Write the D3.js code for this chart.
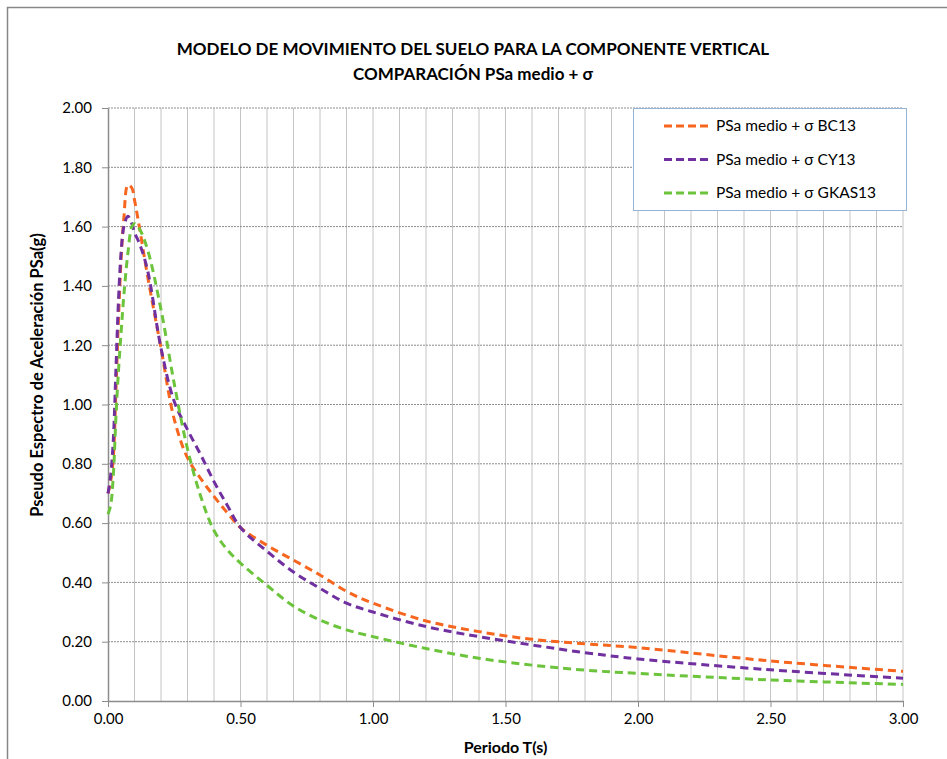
<!DOCTYPE html>
<html>
<head>
<meta charset="utf-8">
<script src="https://cdn.jsdelivr.net/npm/d3@7"></script>
<style>
  body { margin: 0; background: #fff; }
  text { font-family: Lato, "Open Sans", sans-serif; fill: #000; }
</style>
</head>
<body>
<svg id="chart" width="947" height="759"></svg>
<script>
// Periodo T(s) -- shared by all three models
var periods = [0, 0.01, 0.02, 0.03, 0.04, 0.05, 0.06, 0.075, 0.09, 0.1, 0.12, 0.15,
  0.2, 0.25, 0.3, 0.35, 0.4, 0.45, 0.5, 0.6, 0.7, 0.8, 0.9, 1.0, 1.2, 1.4, 1.6,
  1.8, 2.0, 2.5, 3.0];

// PSa medio + sigma, in g
var bc13 = [0.70, 0.74, 0.82, 1.05, 1.30, 1.50, 1.63, 1.74, 1.73, 1.69, 1.59, 1.43,
  1.19, 0.95, 0.82, 0.75, 0.69, 0.635, 0.585, 0.525, 0.475, 0.425, 0.37, 0.33, 0.27,
  0.234, 0.208, 0.193, 0.18, 0.135, 0.10];
var cy13 = [0.70, 0.76, 0.88, 1.12, 1.36, 1.52, 1.60, 1.635, 1.61, 1.58, 1.54, 1.45,
  1.19, 1.01, 0.915, 0.83, 0.74, 0.66, 0.585, 0.505, 0.435, 0.38, 0.33, 0.30, 0.251,
  0.217, 0.189, 0.163, 0.142, 0.105, 0.077];
var gkas13 = [0.63, 0.66, 0.76, 0.96, 1.12, 1.25, 1.37, 1.51, 1.60, 1.61, 1.59, 1.52,
  1.32, 1.07, 0.85, 0.69, 0.575, 0.51, 0.465, 0.39, 0.32, 0.273, 0.24, 0.217, 0.177,
  0.144, 0.121, 0.104, 0.093, 0.071, 0.056];

var seriesNames = ["PSa medio + σ BC13", "PSa medio + σ CY13", "PSa medio + σ GKAS13"];
var seriesColors = ["#f6661f", "#7030a0", "#6cc43c"];
var xTicks = [0, 0.5, 1.0, 1.5, 2.0, 2.5, 3.0];
var yTicks = [0, 0.2, 0.4, 0.6, 0.8, 1.0, 1.2, 1.4, 1.6, 1.8, 2.0];

var svg = d3.select("#chart");
var plotL = 108, plotR = 903, plotT = 108, plotB = 701;

var x = d3.scaleLinear().domain([0, 3]).range([plotL, plotR]);
var y = d3.scaleLinear().domain([0, 2]).range([plotB, plotT]);

// outer chart frame
svg.append("path")
  .attr("d", "M7.5,759 V7.5 H947")
  .attr("fill", "none").attr("stroke", "#878787").attr("stroke-width", 1.5);

// titles
var title = svg.append("text")
  .attr("text-anchor", "middle")
  .style("font-weight", "bold").style("font-size", "17px");
title.append("tspan").attr("x", 473).attr("y", 55)
  .text("MODELO DE MOVIMIENTO DEL SUELO PARA LA COMPONENTE VERTICAL");
title.append("tspan").attr("x", 473).attr("y", 80)
  .text("COMPARACIÓN PSa medio + σ");

// vertical gridlines every 0.1 s
svg.append("g").selectAll("line")
  .data(d3.range(1, 31).map(function (i) { return i / 10; }))
  .enter().append("line")
  .attr("x1", function (d) { return x(d); }).attr("x2", function (d) { return x(d); })
  .attr("y1", plotT).attr("y2", plotB)
  .attr("stroke", "#c4c4c4").attr("stroke-width", 1);

// horizontal dotted gridlines
svg.append("g").selectAll("line")
  .data(yTicks.slice(1))
  .enter().append("line")
  .attr("x1", plotL).attr("x2", plotR)
  .attr("y1", function (d) { return y(d); }).attr("y2", function (d) { return y(d); })
  .attr("stroke", "#8c8c8c").attr("stroke-width", 1)
  .attr("stroke-dasharray", "2,1");

// axes
var xAxis = svg.append("g")
  .attr("transform", "translate(0," + plotB + ")")
  .call(d3.axisBottom(x).tickValues(xTicks).tickFormat(d3.format(".2f"))
    .tickSizeInner(6).tickSizeOuter(0).tickPadding(6));
var yAxis = svg.append("g")
  .attr("transform", "translate(" + plotL + ",0)")
  .call(d3.axisLeft(y).tickValues(yTicks).tickFormat(d3.format(".2f"))
    .tickSizeInner(6).tickSizeOuter(0).tickPadding(10));

[xAxis, yAxis].forEach(function (ax) {
  ax.select(".domain").attr("stroke", "#8c8c8c").attr("stroke-width", 1.5);
  ax.selectAll(".tick line").attr("stroke", "#8c8c8c");
  ax.selectAll(".tick text").style("font-size", "15px")
    .style("font-family", "Lato, sans-serif").attr("fill", "#000");
});

svg.append("text")
  .attr("x", (plotL + plotR) / 2).attr("y", 753).attr("text-anchor", "middle")
  .style("font-weight", "bold").style("font-size", "16px")
  .text("Periodo T(s)");
svg.append("text")
  .attr("transform", "translate(43,375) rotate(-90)")
  .attr("text-anchor", "middle")
  .style("font-weight", "bold").style("font-size", "16.5px")
  .text("Pseudo Espectro de Aceleración PSa(g)");

// curves
var line = d3.line()
  .x(function (d) { return x(d[0]); })
  .y(function (d) { return y(d[1]); })
  .curve(d3.curveCatmullRom.alpha(0.5));

[bc13, cy13, gkas13].forEach(function (vals, i) {
  svg.append("path")
    .datum(periods.map(function (p, j) { return [p, vals[j]]; }))
    .attr("d", line)
    .attr("fill", "none")
    .attr("stroke", seriesColors[i])
    .attr("stroke-width", 3)
    .attr("stroke-dasharray", "8,5");
});

// legend
var legend = svg.append("g");
legend.append("rect")
  .attr("x", 633.5).attr("y", 108.5).attr("width", 273).attr("height", 102)
  .attr("fill", "#fff").attr("stroke", "#95b3d7").attr("stroke-width", 1);
seriesNames.forEach(function (name, i) {
  var ly = 126 + i * 33.5;
  legend.append("line")
    .attr("x1", 664).attr("x2", 711).attr("y1", ly).attr("y2", ly)
    .attr("stroke", seriesColors[i]).attr("stroke-width", 3)
    .attr("stroke-dasharray", "8,4");
  legend.append("text")
    .attr("x", 716).attr("y", ly + 5)
    .style("font-size", "15.5px")
    .text(name);
});
</script>
</body>
</html>
